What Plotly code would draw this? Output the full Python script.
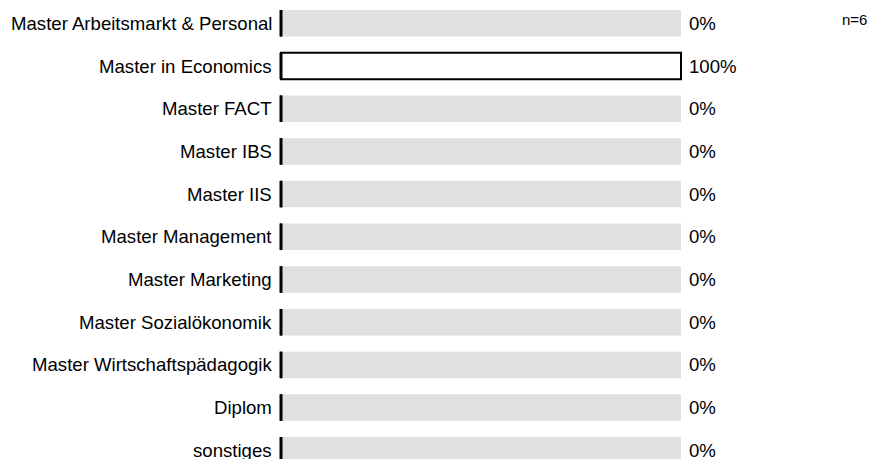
import plotly.graph_objects as go

categories = ["Master Arbeitsmarkt & Personal", "Master in Economics", "Master FACT",
              "Master IBS", "Master IIS", "Master Management", "Master Marketing",
              "Master Sozialökonomik", "Master Wirtschaftspädagogik", "Diplom", "sonstiges"]
values = [0, 100, 0, 0, 0, 0, 0, 0, 0, 0, 0]
pct_labels = ["0%", "100%", "0%", "0%", "0%", "0%", "0%", "0%", "0%", "0%", "0%"]
n_label = "n=6"

# page body has an 8px margin; figure occupies window pixels 8..883 x 8..459
OFF = 8
W, H = 883 - OFF, 459 - OFF
X0 = 281 - OFF            # pixel of value 0
px_per_unit = 4.0
row0, row_step = 23.3 - OFF, 42.7
bar_w = 26.5 / row_step

ys = list(range(len(categories)))
font = "Liberation Sans, Arial, sans-serif"

fig = go.Figure()
fig.add_trace(go.Bar(x=[100] * len(ys), y=ys, base=0, orientation="h", width=bar_w,
                     marker=dict(color="#e0e0e0", line=dict(width=0)), hoverinfo="skip"))
fig.add_trace(go.Bar(x=values, y=ys, base=0, orientation="h", width=bar_w,
                     marker=dict(color="white", line=dict(color="black", width=2)),
                     hoverinfo="skip"))
lx, ly = [], []
for y in ys:
    lx += [0, 0, None]
    ly += [y - bar_w / 2, y + bar_w / 2, None]
fig.add_trace(go.Scatter(x=lx, y=ly, mode="lines", line=dict(color="black", width=3),
                         hoverinfo="skip"))

annotations = []
for y, c, p in zip(ys, categories, pct_labels):
    annotations.append(dict(x=0, y=y, xref="x", yref="y", text=c, showarrow=False,
                            xanchor="right", yanchor="middle", xshift=-7,
                            font=dict(family=font, size=18.6, color="black")))
    annotations.append(dict(x=100, y=y, xref="x", yref="y", text=p, showarrow=False,
                            xanchor="left", yanchor="middle", xshift=6,
                            font=dict(family=font, size=18.6, color="black")))
annotations.append(dict(x=(840 - 281) / px_per_unit, y=-0.08, xref="x", yref="y", text=n_label,
                        showarrow=False, xanchor="left", yanchor="middle",
                        font=dict(family=font, size=15, color="black")))

fig.update_layout(
    width=W, height=H, margin=dict(l=0, r=0, t=0, b=0),
    paper_bgcolor="white", plot_bgcolor="white", showlegend=False, barmode="overlay",
    xaxis=dict(range=[-X0 / px_per_unit, (W - X0) / px_per_unit], visible=False, fixedrange=True),
    yaxis=dict(range=[(H - row0) / row_step, -row0 / row_step], visible=False, fixedrange=True),
    annotations=annotations,
)
fig.write_html("out.html")
